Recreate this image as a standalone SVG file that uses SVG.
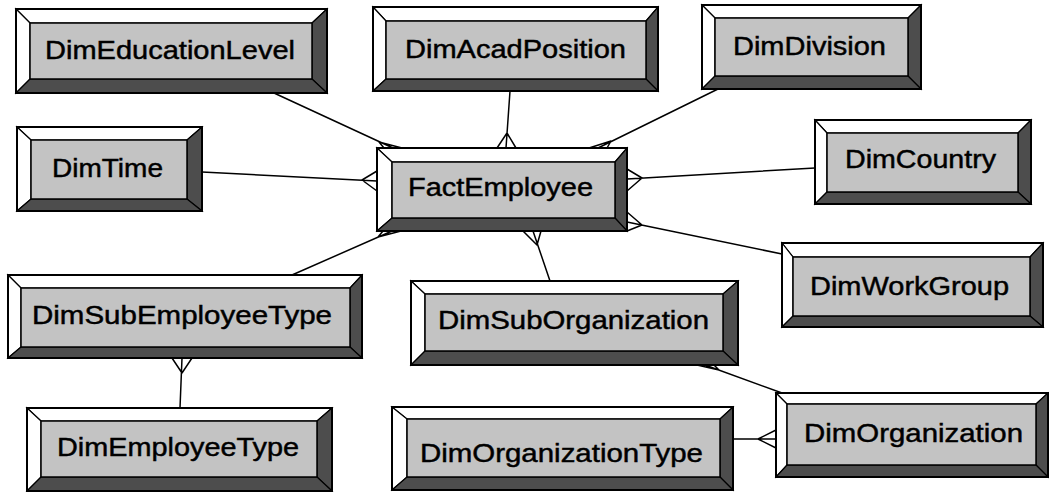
<svg xmlns="http://www.w3.org/2000/svg" width="1049" height="492" viewBox="0 0 1049 492">
<style>
.hi{fill:#ffffff;stroke:#000;stroke-width:1.2;stroke-linejoin:miter}
.sh{fill:#4d4d4d;stroke:#000;stroke-width:1.2}
.face{fill:#c3c3c3;stroke:#000;stroke-width:1.5}
.out{fill:none;stroke:#000;stroke-width:2}
.lbl{font-family:"Liberation Sans",Arial,sans-serif;font-size:25px;fill:#000;stroke:#000;stroke-width:0.45}
.con{fill:none;stroke:#000;stroke-width:1.5;stroke-linejoin:round}
</style>
<rect x="0" y="0" width="1049" height="492" fill="#ffffff"/>
<g id="connectors">
  <path class="con" d="M274,93 L393,148 M384,148 L379,142 L402,148"/>
  <path class="con" d="M510,91 L506,148 M497,148 L507,133 L516,148"/>
  <path class="con" d="M718,89 L598,148 M589,148 L611,141 L607,148"/>
  <path class="con" d="M202,172 L377,181 M377,171 L362,180 L377,191"/>
  <path class="con" d="M815,168 L627,179 M627,169 L642,178 L627,191"/>
  <path class="con" d="M782,254 L627,222 M627,212 L642,225 L627,231"/>
  <path class="con" d="M292,275 L392,231 M383,231 L378,237 L401,231"/>
  <path class="con" d="M550,281 L533,231 M523,231 L537,245 L541,231"/>
  <path class="con" d="M180,408 L182,358 M172,358 L182,373 L192,358"/>
  <path class="con" d="M782,393 L705,365 M697,365 L719,370 L714,365"/>
  <path class="con" d="M733,439 L776,439 M776,430 L758,439 L776,448"/>
</g>
<g id="DimEducationLevel">
  <polygon class="hi" points="16,9 327,9 312,23 30,23"/>
  <polygon class="hi" points="16,9 30,23 30,79 16,93"/>
  <polygon class="sh" points="327,9 327,93 312,79 312,23"/>
  <polygon class="sh" points="16,93 30,79 312,79 327,93"/>
  <rect class="face" x="30" y="23" width="282" height="56"/>
  <rect class="out" x="16" y="9" width="311" height="84"/>
  <text class="lbl" x="45" y="59" textLength="250" lengthAdjust="spacingAndGlyphs">DimEducationLevel</text>
</g>
<g id="DimAcadPosition">
  <polygon class="hi" points="373,7 658,7 646,21 386,21"/>
  <polygon class="hi" points="373,7 386,21 386,79 373,91"/>
  <polygon class="sh" points="658,7 658,91 646,79 646,21"/>
  <polygon class="sh" points="373,91 386,79 646,79 658,91"/>
  <rect class="face" x="386" y="21" width="260" height="58"/>
  <rect class="out" x="373" y="7" width="285" height="84"/>
  <text class="lbl" x="405" y="58" textLength="221" lengthAdjust="spacingAndGlyphs">DimAcadPosition</text>
</g>
<g id="DimDivision">
  <polygon class="hi" points="702,5 921,5 908,18 715,18"/>
  <polygon class="hi" points="702,5 715,18 715,76 702,89"/>
  <polygon class="sh" points="921,5 921,89 908,76 908,18"/>
  <polygon class="sh" points="702,89 715,76 908,76 921,89"/>
  <rect class="face" x="715" y="18" width="193" height="58"/>
  <rect class="out" x="702" y="5" width="219" height="84"/>
  <text class="lbl" x="733" y="55" textLength="153" lengthAdjust="spacingAndGlyphs">DimDivision</text>
</g>
<g id="DimTime">
  <polygon class="hi" points="17,127 202,127 187,140 31,140"/>
  <polygon class="hi" points="17,127 31,140 31,199 17,211"/>
  <polygon class="sh" points="202,127 202,211 187,199 187,140"/>
  <polygon class="sh" points="17,211 31,199 187,199 202,211"/>
  <rect class="face" x="31" y="140" width="156" height="59"/>
  <rect class="out" x="17" y="127" width="185" height="84"/>
  <text class="lbl" x="52" y="177" textLength="111" lengthAdjust="spacingAndGlyphs">DimTime</text>
</g>
<g id="FactEmployee">
  <polygon class="hi" points="377,148 627,148 615,162 392,162"/>
  <polygon class="hi" points="377,148 392,162 392,218 377,231"/>
  <polygon class="sh" points="627,148 627,231 615,218 615,162"/>
  <polygon class="sh" points="377,231 392,218 615,218 627,231"/>
  <rect class="face" x="392" y="162" width="223" height="56"/>
  <rect class="out" x="377" y="148" width="250" height="83"/>
  <text class="lbl" x="408" y="196" textLength="185" lengthAdjust="spacingAndGlyphs">FactEmployee</text>
</g>
<g id="DimCountry">
  <polygon class="hi" points="815,120 1031,120 1018,133 827,133"/>
  <polygon class="hi" points="815,120 827,133 827,192 815,204"/>
  <polygon class="sh" points="1031,120 1031,204 1018,192 1018,133"/>
  <polygon class="sh" points="815,204 827,192 1018,192 1031,204"/>
  <rect class="face" x="827" y="133" width="191" height="59"/>
  <rect class="out" x="815" y="120" width="216" height="84"/>
  <text class="lbl" x="845" y="168" textLength="151" lengthAdjust="spacingAndGlyphs">DimCountry</text>
</g>
<g id="DimWorkGroup">
  <polygon class="hi" points="782,243 1043,243 1030,257 793,257"/>
  <polygon class="hi" points="782,243 793,257 793,316 782,327"/>
  <polygon class="sh" points="1043,243 1043,327 1030,316 1030,257"/>
  <polygon class="sh" points="782,327 793,316 1030,316 1043,327"/>
  <rect class="face" x="793" y="257" width="237" height="59"/>
  <rect class="out" x="782" y="243" width="261" height="84"/>
  <text class="lbl" x="810" y="295" textLength="199" lengthAdjust="spacingAndGlyphs">DimWorkGroup</text>
</g>
<g id="DimSubEmployeeType">
  <polygon class="hi" points="8,275 362,275 350,288 21,288"/>
  <polygon class="hi" points="8,275 21,288 21,347 8,358"/>
  <polygon class="sh" points="362,275 362,358 350,347 350,288"/>
  <polygon class="sh" points="8,358 21,347 350,347 362,358"/>
  <rect class="face" x="21" y="288" width="329" height="59"/>
  <rect class="out" x="8" y="275" width="354" height="83"/>
  <text class="lbl" x="32" y="324" textLength="300" lengthAdjust="spacingAndGlyphs">DimSubEmployeeType</text>
</g>
<g id="DimSubOrganization">
  <polygon class="hi" points="411,281 738,281 723,294 425,294"/>
  <polygon class="hi" points="411,281 425,294 425,351 411,365"/>
  <polygon class="sh" points="738,281 738,365 723,351 723,294"/>
  <polygon class="sh" points="411,365 425,351 723,351 738,365"/>
  <rect class="face" x="425" y="294" width="298" height="57"/>
  <rect class="out" x="411" y="281" width="327" height="84"/>
  <text class="lbl" x="438" y="329" textLength="271" lengthAdjust="spacingAndGlyphs">DimSubOrganization</text>
</g>
<g id="DimEmployeeType">
  <polygon class="hi" points="27,408 332,408 317,421 41,421"/>
  <polygon class="hi" points="27,408 41,421 41,477 27,491"/>
  <polygon class="sh" points="332,408 332,491 317,477 317,421"/>
  <polygon class="sh" points="27,491 41,477 317,477 332,491"/>
  <rect class="face" x="41" y="421" width="276" height="56"/>
  <rect class="out" x="27" y="408" width="305" height="83"/>
  <text class="lbl" x="57" y="456" textLength="242" lengthAdjust="spacingAndGlyphs">DimEmployeeType</text>
</g>
<g id="DimOrganizationType">
  <polygon class="hi" points="392,407 733,407 720,419 407,419"/>
  <polygon class="hi" points="392,407 407,419 407,477 392,490"/>
  <polygon class="sh" points="733,407 733,490 720,477 720,419"/>
  <polygon class="sh" points="392,490 407,477 720,477 733,490"/>
  <rect class="face" x="407" y="419" width="313" height="58"/>
  <rect class="out" x="392" y="407" width="341" height="83"/>
  <text class="lbl" x="420" y="462" textLength="283" lengthAdjust="spacingAndGlyphs">DimOrganizationType</text>
</g>
<g id="DimOrganization">
  <polygon class="hi" points="776,393 1048,393 1036,404 787,404"/>
  <polygon class="hi" points="776,393 787,404 787,465 776,477"/>
  <polygon class="sh" points="1048,393 1048,477 1036,465 1036,404"/>
  <polygon class="sh" points="776,477 787,465 1036,465 1048,477"/>
  <rect class="face" x="787" y="404" width="249" height="61"/>
  <rect class="out" x="776" y="393" width="272" height="84"/>
  <text class="lbl" x="804" y="442" textLength="219" lengthAdjust="spacingAndGlyphs">DimOrganization</text>
</g>
</svg>
